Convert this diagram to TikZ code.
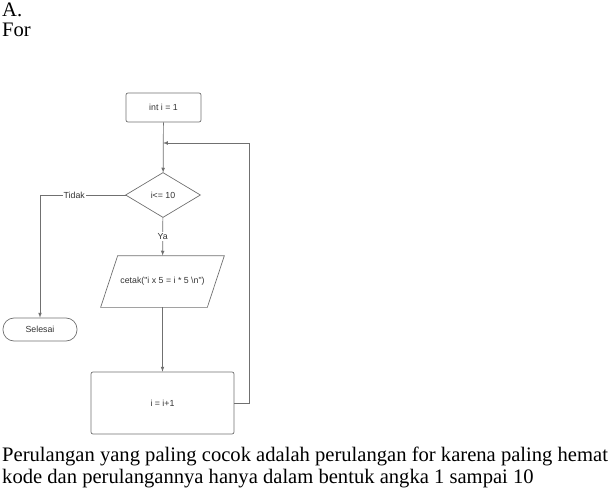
\documentclass[tikz,border=0pt]{standalone}
\usepackage{fontspec}
\setmainfont{Liberation Serif}
\newfontfamily\diagfont{Liberation Sans}
\definecolor{garis}{HTML}{707070}
\definecolor{teks}{HTML}{333333}

\begin{document}
\begin{tikzpicture}[x=1pt, y=-1pt, ->, >=latex]
\tikzstyle{kotak}=[draw=garis, line width=0.7pt, rectangle, rounded corners=2pt,
                   font=\diagfont\fontsize{8.8}{10}\selectfont, text=teks, inner sep=0pt]
\tikzstyle{keluaran}=[kotak, draw=none]
\tikzstyle{ujung}=[kotak, rounded corners=11pt]
\tikzstyle{label}=[fill=white, font=\diagfont\fontsize{8.8}{10}\selectfont, text=teks, inner sep=1pt]
\tikzstyle{teksbiasa}=[anchor=base west, inner sep=0pt, font=\fontsize{20.6}{24}\selectfont]

\useasboundingbox (0,0) rectangle (611,492);

\node[teksbiasa] (judul) at (2,17) {A.};
\node[teksbiasa] (jenis) at (2,37) {For};

\node[kotak, minimum width=75pt, minimum height=29pt] (init) at (163.5,107.5) {int i = 1};
\node[kotak, draw=none, minimum width=74pt, minimum height=44pt] (cond) at (163,195) {i<= 10};
\node[keluaran, minimum width=106pt, minimum height=51pt] (cetak) at (162.5,281.5)
    {cetak("i x 5 = i * 5 \textbackslash n")};
\node[kotak, minimum width=143pt, minimum height=62pt] (incr) at (162.5,403) {i = i+1};
\node[ujung, minimum width=74pt, minimum height=23pt] (selesai) at (40,329.5) {Selesai};

% belah ketupat dan jajar genjang digambar dari titik node
\draw[-, draw=garis, line width=0.7pt] (cond.north) -- (cond.east) -- (cond.south)
    -- (cond.west) -- cycle;
\draw[-, draw=garis, line width=0.7pt] ([xshift=8.5pt]cetak.north west)
    -- ([xshift=8.5pt]cetak.north east) -- ([xshift=-8.5pt]cetak.south east)
    -- ([xshift=-8.5pt]cetak.south west) -- cycle;

\coordinate (gabung) at (163,143);
\coordinate (kanan) at (249,143);
\coordinate (kiri) at (40,195);

\begin{scope}[draw=garis, line width=0.7pt]
\draw (init) -- (cond);
\draw (cond) -- node[label] {Ya} (cetak);
\draw (cetak) -- (incr);
\draw (incr.east) -| (kanan) -- (gabung);
\draw[-] (cond.west) -- node[label, pos=0.6] {Tidak} (kiri);
\draw (kiri) -- (selesai);
\end{scope}

\node[teksbiasa] (ket1) at (2,461)
    {Perulangan yang paling cocok adalah perulangan for karena paling hemat};
\node[teksbiasa] (ket2) at (2,483)
    {kode dan perulangannya hanya dalam bentuk angka 1 sampai 10};
\end{tikzpicture}
\end{document}
